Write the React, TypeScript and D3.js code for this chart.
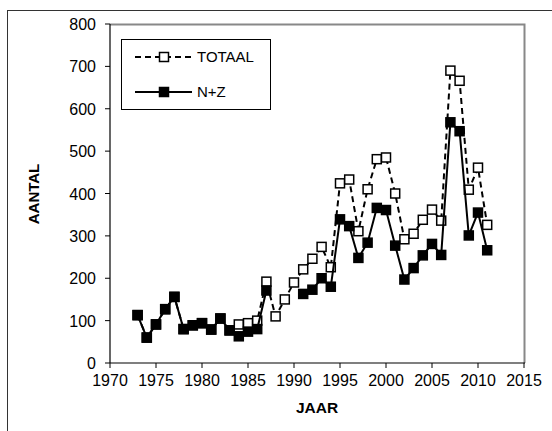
import { useEffect, useRef } from 'react';
import * as d3 from 'd3';

const years = d3.range(1973, 2012);
const totaal = [113, 60, 91, 127, 156, 80, 89, 94, 79, 105, 77, 91, 94, 100, 192, 110, 150, 190, 221, 246, 274, 226, 424, 433, 311, 410, 481, 485, 400, 292, 305, 338, 362, 336, 690, 666, 409, 461, 326];
const nz: (number | null)[] = [113, 60, 91, 127, 156, 80, 89, 94, 79, 105, 77, 63, 74, 80, 171, null, null, null, 163, 173, 200, 180, 339, 323, 248, 284, 366, 361, 277, 197, 224, 254, 281, 255, 568, 547, 301, 355, 266];
const xTicks = d3.range(1970, 2016, 5);
const yTicks = d3.range(0, 801, 100);

export default function App() {
    const svgRef = useRef<SVGSVGElement>(null);

    useEffect(() => {
        if (!svgRef.current) return;
        const width = 552;
        const height = 431;
        const svg = d3.select(svgRef.current);
        svg.selectAll('*').remove();
        svg.attr('width', width).attr('height', height);

        const left = 110, right = 524, top = 24, bottom = 363;
        const x = d3.scaleLinear().domain([1970, 2015]).range([left, right]);
        const y = d3.scaleLinear().domain([0, 800]).range([bottom, top]);
        const font = 'Arial, "Liberation Sans", sans-serif';

        // outer chart border
        svg.append('rect')
            .attr('x', 7.5).attr('y', 10.5)
            .attr('width', 600).attr('height', 500)
            .attr('fill', '#fff').attr('stroke', '#333').attr('stroke-width', 1);

        // plot area border (top/right gray)
        svg.append('path')
            .attr('d', `M${left},${top + 0.5}H${right + 0.5}V${bottom}`)
            .attr('fill', 'none').attr('stroke', '#888').attr('stroke-width', 2);

        // axes
        svg.append('line').attr('x1', left).attr('x2', left).attr('y1', top).attr('y2', bottom)
            .attr('stroke', '#000').attr('stroke-width', 1.2);
        svg.append('line').attr('x1', left).attr('x2', right + 1).attr('y1', bottom).attr('y2', bottom)
            .attr('stroke', '#000').attr('stroke-width', 1.2);

        svg.selectAll('.ytick').data(yTicks).enter().append('line')
            .attr('x1', left - 5).attr('x2', left)
            .attr('y1', d => y(d)).attr('y2', d => y(d))
            .attr('stroke', '#000');
        svg.selectAll('.ylab').data(yTicks).enter().append('text')
            .attr('x', left - 14).attr('y', d => y(d) + 6)
            .attr('text-anchor', 'end').attr('font-family', font).attr('font-size', 16)
            .text(d => d);

        svg.selectAll('.xtick').data(xTicks).enter().append('line')
            .attr('x1', d => x(d)).attr('x2', d => x(d))
            .attr('y1', bottom).attr('y2', bottom + 5)
            .attr('stroke', '#000');
        svg.selectAll('.xlab').data(xTicks).enter().append('text')
            .attr('x', d => x(d)).attr('y', bottom + 23)
            .attr('text-anchor', 'middle').attr('font-family', font).attr('font-size', 16)
            .text(d => d);

        svg.append('text')
            .attr('x', 317).attr('y', 413)
            .attr('text-anchor', 'middle').attr('font-family', font)
            .attr('font-size', 15.5).attr('font-weight', 'bold')
            .text('JAAR');
        svg.append('text')
            .attr('transform', 'translate(39,194) rotate(-90)')
            .attr('text-anchor', 'middle').attr('font-family', font)
            .attr('font-size', 15).attr('font-weight', 'bold')
            .text('AANTAL');

        const ms = 9;

        const totData = years.map((yr, i) => ({ yr, v: totaal[i] as number | null }));
        const nzData = years.map((yr, i) => ({ yr, v: nz[i] }));
        const line = d3.line<{ yr: number; v: number | null }>()
            .defined(d => d.v !== null)
            .x(d => x(d.yr)).y(d => y(d.v as number));

        // TOTAAL series
        svg.append('path').datum(totData).attr('d', line)
            .attr('fill', 'none').attr('stroke', '#000').attr('stroke-width', 2)
            .attr('stroke-dasharray', '6,4');
        svg.selectAll('.tot').data(totData).enter().append('rect')
            .attr('x', d => x(d.yr) - ms / 2).attr('y', d => y(d.v as number) - ms / 2)
            .attr('width', ms).attr('height', ms)
            .attr('fill', '#fff').attr('stroke', '#000').attr('stroke-width', 1.5);

        // N+Z series
        svg.append('path').datum(nzData).attr('d', line)
            .attr('fill', 'none').attr('stroke', '#000').attr('stroke-width', 2);
        svg.selectAll('.nz').data(nzData.filter(d => d.v !== null)).enter().append('rect')
            .attr('x', d => x(d.yr) - ms / 2).attr('y', d => y(d.v as number) - ms / 2)
            .attr('width', ms).attr('height', ms)
            .attr('fill', '#000').attr('stroke', '#000').attr('stroke-width', 1.5);

        // legend
        const lg = svg.append('g');
        lg.append('rect').attr('x', 121.5).attr('y', 39.5).attr('width', 149).attr('height', 70)
            .attr('fill', '#fff').attr('stroke', '#000').attr('stroke-width', 1);
        const items = [
            { label: 'TOTAAL', dash: '6,4', fill: '#fff', cy: 57 },
            { label: 'N+Z', dash: null, fill: '#000', cy: 92 },
        ];
        items.forEach(it => {
            lg.append('line').attr('x1', 135).attr('x2', 192).attr('y1', it.cy).attr('y2', it.cy)
                .attr('stroke', '#000').attr('stroke-width', 2)
                .attr('stroke-dasharray', it.dash);
            lg.append('rect').attr('x', 164 - ms / 2).attr('y', it.cy - ms / 2)
                .attr('width', ms).attr('height', ms)
                .attr('fill', it.fill).attr('stroke', '#000').attr('stroke-width', 1.5);
            lg.append('text').attr('x', 197).attr('y', it.cy + 5)
                .attr('font-family', font).attr('font-size', 15)
                .text(it.label);
        });
    }, []);

    return <svg ref={svgRef} style={{ position: 'absolute', left: 0, top: 0 }} />;
}
